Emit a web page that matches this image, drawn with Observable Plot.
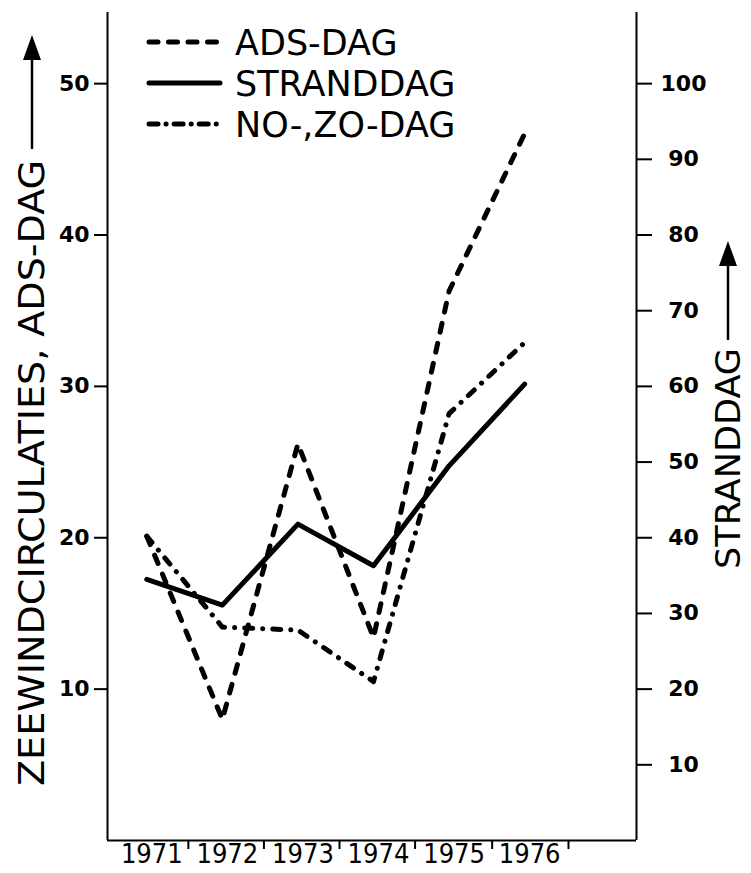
<!DOCTYPE html>
<html><head><meta charset="utf-8">
<script src="https://cdn.jsdelivr.net/npm/d3@7"></script>
<script src="https://cdn.jsdelivr.net/npm/@observablehq/plot@0.6"></script>
<style>html,body{margin:0;padding:0;background:#fff}</style>
</head><body><div id="chart"></div>
<script>
// ---- data ----
const years = [1971, 1972, 1973, 1974, 1975, 1976];
const adsDag = [20.1, 8.0, 26.2, 13.4, 36.3, 46.7];        // left axis units
const strandDag = [34.5, 31.1, 41.8, 36.3, 49.5, 60.3];    // right axis units
const noZoDag = [20.1, 14.1, 13.9, 10.5, 28.2, 32.9];      // left axis units
const leftTicks = [10, 20, 30, 40, 50];
const rightTicks = [10, 20, 30, 40, 50, 60, 70, 80, 90, 100];
const yearBoundaries = [1971.55, 1972.55, 1973.55, 1974.55, 1975.57, 1976.58];
const seriesNames = ["ADS-DAG", "STRANDDAG", "NO-,ZO-DAG"];
const leftTitle = "ZEEWINDCIRCULATIES, ADS-DAG";
const rightTitle = "STRANDDAG";
const rightFactor = 2; // right axis = 2 x left axis

const xDomain = [1970.48, 1977.48];
const yDomain = [0, 54.7];

const rows = [];
years.forEach((yr, i) => {
  rows.push({year: yr, value: adsDag[i], series: seriesNames[0]});
  rows.push({year: yr, value: strandDag[i] / rightFactor, series: seriesNames[1]});
  rows.push({year: yr, value: noZoDag[i], series: seriesNames[2]});
});
const dashes = {
  "ADS-DAG": "9,11.5",
  "STRANDDAG": null,
  "NO-,ZO-DAG": "8,10,0.1,10"
};
const tickFont = "DejaVu Sans";
const narrowFont = "'Liberation Sans Narrow', 'DejaVu Sans Condensed', 'DejaVu Sans', sans-serif";

const lineMarks = seriesNames.map(s => Plot.line(rows.filter(r => r.series === s), {
  x: "year", y: "value", stroke: "black", strokeWidth: 5,
  strokeDasharray: dashes[s], strokeLinecap: "round", strokeLinejoin: "round"
}));

const svg = Plot.plot({
  width: 751, height: 873,
  marginLeft: 107, marginRight: 115, marginTop: 12, marginBottom: 33,
  style: {background: "white", color: "black", fontFamily: tickFont},
  x: {domain: xDomain, axis: null},
  y: {domain: yDomain, axis: null},
  marks: [
    Plot.ruleX([xDomain[0]], {stroke: "black", strokeWidth: 2}),
    Plot.ruleX([xDomain[1]], {stroke: "black", strokeWidth: 2}),
    Plot.ruleY([0], {stroke: "black", strokeWidth: 2}),
    Plot.axisY(leftTicks, {anchor: "left", tickSize: 13, tickPadding: 5, fontSize: 22, fontWeight: "bold", label: null, strokeWidth: 2}),
    Plot.axisY(rightTicks.map(d => d / rightFactor), {anchor: "right", tickSize: 15, tickPadding: 32, textAnchor: "middle",
      tickFormat: d => String(d * rightFactor), fontSize: 22, fontWeight: "bold", label: null, strokeWidth: 2}),
    Plot.axisX(yearBoundaries, {anchor: "bottom", tickSize: 9, tickFormat: () => "", label: null, strokeWidth: 2}),
    Plot.axisX(years, {anchor: "bottom", tickSize: 0, tickPadding: 3, dx: 5, tickFormat: d => String(d),
      fontSize: 27, fontFamily: narrowFont, label: null}),
    ...lineMarks
  ]
});
document.getElementById("chart").appendChild(svg);

// ---- legend and axis titles ----
const g = d3.select(svg).append("g").attr("fill", "black").attr("stroke", "none").attr("text-anchor", "start");
const legendY = [42, 83, 124];
seriesNames.forEach((s, i) => {
  g.append("line").attr("x1", 149).attr("x2", 220).attr("y1", legendY[i]).attr("y2", legendY[i])
    .attr("stroke", "black").attr("stroke-width", 5).attr("stroke-linecap", "round")
    .attr("stroke-dasharray", s === "ADS-DAG" ? "9,10.5" : s === "NO-,ZO-DAG" ? "9,8,0.1,8" : null);
  g.append("text").attr("x", 235).attr("y", legendY[i] + 12.7).attr("text-anchor", "start")
    .attr("font-family", "DejaVu Sans").attr("font-size", 35).text(s);
});

function axisTitle(text, cx, yStart, len, shaftTop, tip, size) {
  g.append("text")
    .attr("transform", `translate(${cx + 12},${yStart}) rotate(-90)`)
    .attr("text-anchor", "start")
    .attr("font-family", narrowFont).attr("font-size", size)
    .attr("textLength", len).attr("lengthAdjust", "spacingAndGlyphs")
    .text(text);
  g.append("line").attr("x1", cx).attr("x2", cx).attr("y1", shaftTop).attr("y2", tip + 22)
    .attr("stroke", "black").attr("stroke-width", 2.5);
  g.append("path").attr("d", `M${cx},${tip} L${cx - 9},${tip + 25} L${cx + 9},${tip + 25} Z`);
}
axisTitle(leftTitle, 32, 786, 626, 149, 35, 36);
axisTitle(rightTitle, 728, 569, 221, 340, 241, 34);
</script></body></html>
